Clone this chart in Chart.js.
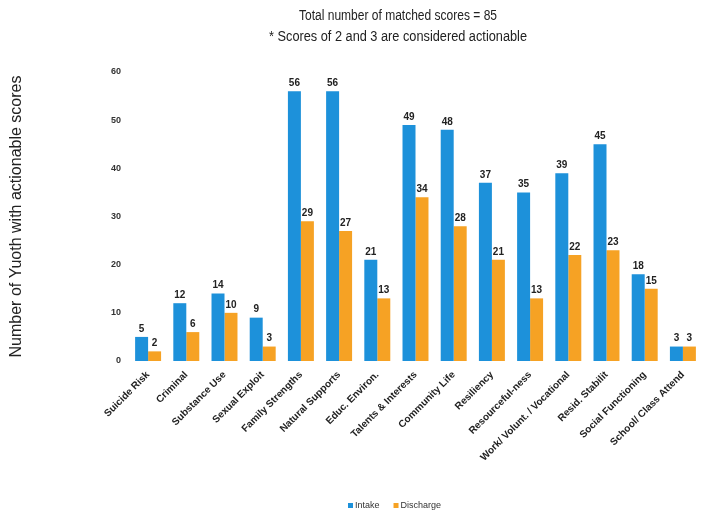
<!DOCTYPE html>
<html>
<head>
<meta charset="utf-8">
<script src="https://cdn.jsdelivr.net/npm/chart.js@4"></script>
<style>
  html, body { margin: 0; padding: 0; background: #fff; }
  #wrap { width: 702px; height: 514px; position: relative; }
</style>
</head>
<body>
<div id="wrap"><canvas id="graph"></canvas></div>
<script>
const categories = [
    'Suicide Risk', 'Criminal', 'Substance Use', 'Sexual Exploit', 'Family Strengths',
    'Natural Supports', 'Educ. Environ.', 'Talents & Interests', 'Community Life', 'Resiliency',
    'Resourceful-ness', 'Work/ Volunt. / Vocational', 'Resid. Stabilit', 'Social Functioning', 'School/ Class Attend'
];
const intake = [5, 12, 14, 9, 56, 56, 21, 49, 48, 37, 35, 39, 45, 18, 3];
const discharge = [2, 6, 10, 3, 29, 27, 13, 34, 28, 21, 13, 22, 23, 15, 3];
const yTicks = [0, 10, 20, 30, 40, 50, 60];
const titleLines = ['Total number of matched scores = 85', '* Scores of 2 and 3 are considered actionable'];

const FONT = '"Liberation Sans", sans-serif';

// numbers over the bars
const valueLabels = {
    id: 'valueLabels',
    afterDatasetsDraw(chart) {
        const c = chart.ctx;
        c.save();
        c.font = 'bold 10px ' + FONT;
        c.fillStyle = '#222';
        c.textAlign = 'center';
        c.textBaseline = 'bottom';
        chart.data.datasets.forEach((ds, i) => {
            chart.getDatasetMeta(i).data.forEach((bar, j) => {
                c.fillText(ds.data[j], bar.x, bar.y - 3);
            });
        });
        c.restore();
    }
};

// title + legend drawn by hand so they sit where the original has them
const headerFooter = {
    id: 'headerFooter',
    afterDraw(chart) {
        const c = chart.ctx;
        c.save();
        c.fillStyle = '#222';
        c.textAlign = 'center';
        c.textBaseline = 'middle';
        c.font = '14px ' + FONT;
        // the original uses a narrow face, squeeze to the same width
        c.fillText(titleLines[0], 398, 16, 198);
        c.fillText(titleLines[1], 398, 37, 258);

        c.font = '9px ' + FONT;
        c.textAlign = 'left';
        let x = 348;
        chart.data.datasets.forEach((ds) => {
            c.fillStyle = ds.backgroundColor;
            c.fillRect(x, 503, 5, 5);
            c.fillStyle = '#333';
            c.fillText(ds.label, x + 7, 506);
            x += 7 + c.measureText(ds.label).width + 14;
        });
        c.restore();
    }
};

new Chart(document.getElementById('graph'), {
    type: 'bar',
    data: {
        labels: categories,
        datasets: [{
            label: 'Intake',
            data: intake,
            backgroundColor: '#1d91da',
            categoryPercentage: 0.68,
            barPercentage: 1
        }, {
            label: 'Discharge',
            data: discharge,
            backgroundColor: '#f6a224',
            categoryPercentage: 0.68,
            barPercentage: 1
        }]
    },
    options: {
        responsive: true,
        maintainAspectRatio: false,
        animation: false,
        layout: { padding: { top: 72, right: 0, bottom: 30, left: 0 } },
        scales: {
            x: {
                grid: { display: false },
                border: { display: false },
                ticks: {
                    color: '#222',
                    font: { family: FONT, size: 10, weight: 'bold' },
                    maxRotation: 45,
                    minRotation: 45,
                    autoSkip: false,
                    padding: 0
                },
                afterFit(scale) { scale.height = 123; }
            },
            y: {
                min: 0,
                max: 60,
                grid: { display: false },
                border: { display: false },
                afterBuildTicks(scale) { scale.ticks = yTicks.map(v => ({ value: v })); },
                ticks: {
                    color: '#333',
                    font: { family: FONT, size: 9, weight: 'bold' },
                    padding: 0
                },
                title: {
                    display: true,
                    text: 'Number of Yuoth with actionable scores',
                    color: '#222',
                    font: { family: FONT, size: 16 },
                    padding: { top: 7, bottom: 0 }
                },
                afterFit(scale) { scale.width = 129; }
            }
        },
        plugins: {
            legend: { display: false },
            title: { display: false },
            tooltip: { enabled: false }
        }
    },
    plugins: [valueLabels, headerFooter]
});
</script>
</body>
</html>
